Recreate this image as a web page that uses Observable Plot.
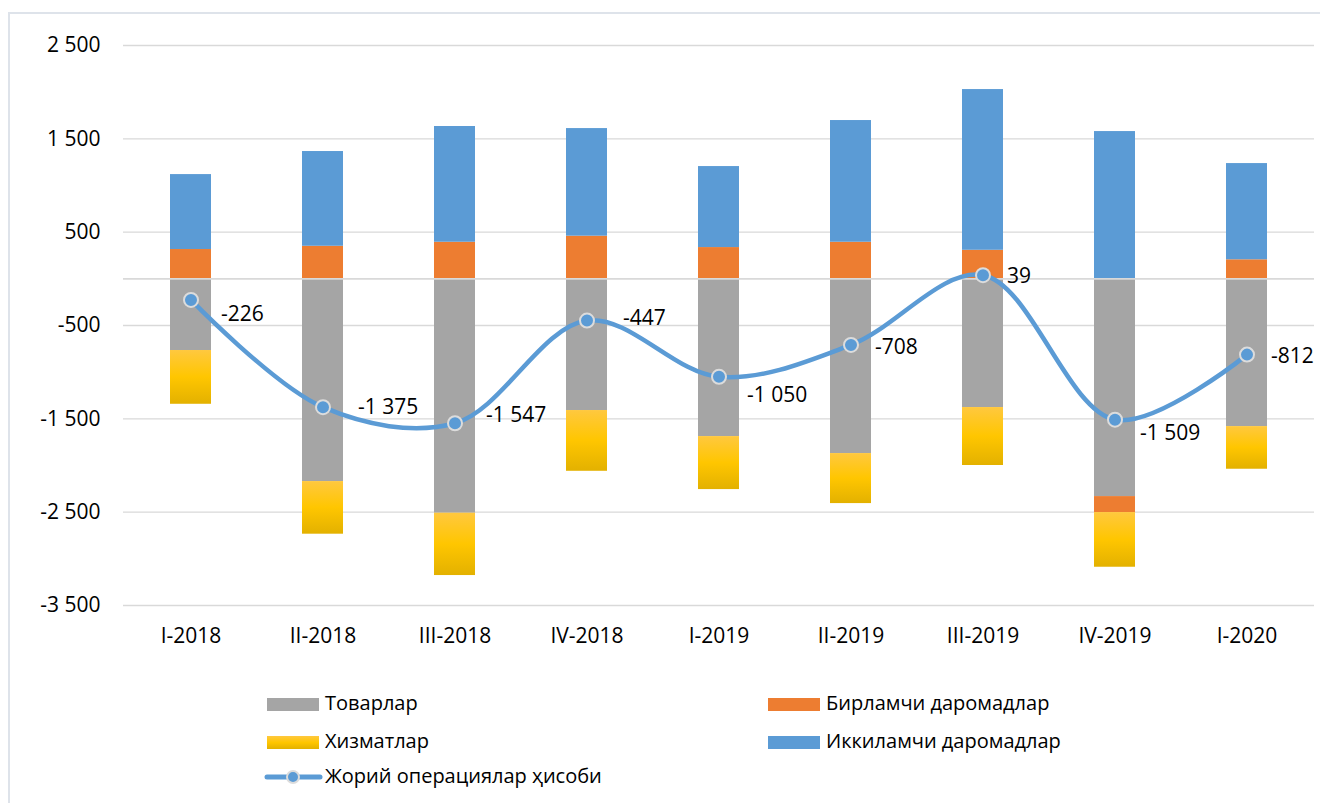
<!DOCTYPE html>
<html>
<head>
<meta charset="utf-8">
<script src="https://cdn.jsdelivr.net/npm/d3@7"></script>
<script src="https://cdn.jsdelivr.net/npm/@observablehq/plot@0.6"></script>
<style>
  html, body { margin: 0; padding: 0; background: #fff; }
  #wrap { position: relative; width: 1320px; height: 803px; overflow: hidden; font-family: "Open Sans", sans-serif; color: #000; }
  #frame { position: absolute; left: 8px; top: 12px; right: -10px; bottom: -10px; border-left: 2px solid #DEE3EA; border-top: 2px solid #DEE3EA; }
  #chart { position: absolute; left: 0; top: 0; }
  .lg { position: absolute; font-size: 20px; line-height: 24px; white-space: nowrap; }
  .sw { position: absolute; width: 52px; height: 13px; }
</style>
</head>
<body>
<div id="wrap">
  <div id="frame"></div>
  <div id="chart"></div>
  <div id="legend"></div>
</div>
<script>
// ---- data ----
const categories = ["I-2018","II-2018","III-2018","IV-2018","I-2019","II-2019","III-2019","IV-2019","I-2020"];
const goods           = [-768, -2172, -2511, -1411, -1690, -1872, -1379, -2333, -1583];
const primaryIncome   = [ 314,   349,   392,   457,   335,   392,   306,  -171,   204];
const services        = [-576,  -564,  -668,  -651,  -568,  -536,  -621,  -586,  -457];
const secondaryIncome = [ 803,  1015,  1240,  1153,   868,  1304,  1722,  1578,  1031];
const currentAccount  = [-226, -1375, -1547,  -447, -1050,  -708,    39, -1509,  -812];
const seriesNames = ["Товарлар", "Бирламчи даромадлар", "Хизматлар", "Иккиламчи даромадлар"];
const lineName = "Жорий операциялар ҳисоби";
const yTicks = [-3500, -2500, -1500, -500, 500, 1500, 2500];

// ---- styling (kept apart from data) ----
const seriesColors = ["#A5A5A5", "#ED7D31", "url(#yellowGrad)", "#5B9BD5"];
const labelNudge = [[30,14],[35,0],[31,-8],[36,-2],[28,18],[24,2],[24,1],[25,14],[24,2]];

const seriesValues = [goods, primaryIncome, services, secondaryIncome];
const barData = [];
seriesNames.forEach((s, si) => categories.forEach((c, i) => barData.push({cat: c, series: s, value: seriesValues[si][i]})));
const lineData = categories.map((c, i) => ({cat: c, value: currentAccount[i]}));

const loc = d3.formatLocale({decimal: ",", thousands: " ", grouping: [3], currency: ["", ""], minus: "-"});
const fmt = loc.format(",d");

const chart = Plot.plot({
  width: 1320,
  height: 665,
  marginLeft: 123,
  marginRight: 6,
  marginTop: 45,
  marginBottom: 60,
  style: {fontFamily: "Open Sans, sans-serif", fontSize: "21px", color: "#000", background: "transparent"},
  x: {domain: categories, paddingInner: 0.69, paddingOuter: 0.345, align: 0.5, label: null},
  y: {domain: [-3500, 2500], label: null},
  color: {domain: seriesNames, range: seriesColors},
  marks: [
    Plot.gridY(yTicks, {stroke: "#D9D9D9", strokeOpacity: 1, strokeWidth: 1.4}),
    Plot.axisY(yTicks, {tickSize: 0, tickPadding: 23, tickFormat: fmt, fontSize: 21, label: null}),
    Plot.axisX({tickSize: 0, tickPadding: 23, fontSize: 21, label: null}),
    Plot.barY(barData, {x: "cat", y: "value", fill: "series", insetLeft: 0, insetRight: 0}),
    Plot.ruleY([0], {stroke: "#D9D9D9", strokeWidth: 1.6}),
    Plot.line(lineData, {x: "cat", y: "value", curve: "catmull-rom", stroke: "#5B9BD5", strokeWidth: 4.5, strokeLinecap: "round"}),
    Plot.dot(lineData, {x: "cat", y: "value", r: 7, fill: "#5B9BD5", stroke: "#DCDCDC", strokeWidth: 2}),
    ...lineData.map((d, i) => Plot.text([d], {
      x: "cat", y: "value", text: dd => fmt(dd.value),
      textAnchor: "start", dx: labelNudge[i][0], dy: labelNudge[i][1],
      fontSize: 21, fill: "#000"
    }))
  ]
});

d3.select(chart).insert("defs", ":first-child").html(
  '<linearGradient id="yellowGrad" x1="0" y1="0" x2="0" y2="1">' +
  '<stop offset="0" stop-color="#FFC83F"/>' +
  '<stop offset="0.5" stop-color="#FFC600"/>' +
  '<stop offset="1" stop-color="#E3B100"/></linearGradient>' +
  '<linearGradient id="yellowGradL" x1="0" y1="0" x2="0" y2="1">' +
  '<stop offset="0" stop-color="#FFC83F"/>' +
  '<stop offset="0.5" stop-color="#FFC600"/>' +
  '<stop offset="1" stop-color="#E3B100"/></linearGradient>'
);
document.getElementById("chart").appendChild(chart);

// ---- legend (HTML below/over the SVG bottom) ----
const legend = document.getElementById("legend");
const legendItems = [
  {name: seriesNames[0], color: seriesColors[0], col: 0, row: 0},
  {name: seriesNames[1], color: seriesColors[1], col: 1, row: 0},
  {name: seriesNames[2], color: "linear-gradient(#FFC83F, #FFC600 50%, #E3B100)", col: 0, row: 1},
  {name: seriesNames[3], color: seriesColors[3], col: 1, row: 1}
];
const colX = [267, 768];
const rowY = [704, 742, 777];
legendItems.forEach(it => {
  const sw = document.createElement("div");
  sw.className = "sw";
  sw.style.left = colX[it.col] + "px";
  sw.style.top = (rowY[it.row] - 6.5) + "px";
  sw.style.background = it.color;
  legend.appendChild(sw);
  const t = document.createElement("div");
  t.className = "lg";
  t.style.left = (colX[it.col] + 58) + "px";
  t.style.top = (rowY[it.row] - 13) + "px";
  t.textContent = it.name;
  legend.appendChild(t);
});
// line legend
const ns = "http://www.w3.org/2000/svg";
const ls = document.createElementNS(ns, "svg");
ls.setAttribute("width", 62); ls.setAttribute("height", 20);
ls.style.position = "absolute"; ls.style.left = "262px"; ls.style.top = (rowY[2] - 10) + "px";
ls.innerHTML = '<line x1="5" y1="10" x2="58" y2="10" stroke="#5B9BD5" stroke-width="5" stroke-linecap="round"/>' +
  '<circle cx="31" cy="10" r="6" fill="#5B9BD5" stroke="#DCDCDC" stroke-width="2"/>';
legend.appendChild(ls);
const lt = document.createElement("div");
lt.className = "lg";
lt.style.left = (colX[0] + 58) + "px";
lt.style.top = (rowY[2] - 13) + "px";
lt.textContent = lineName;
legend.appendChild(lt);
</script>
</body>
</html>
